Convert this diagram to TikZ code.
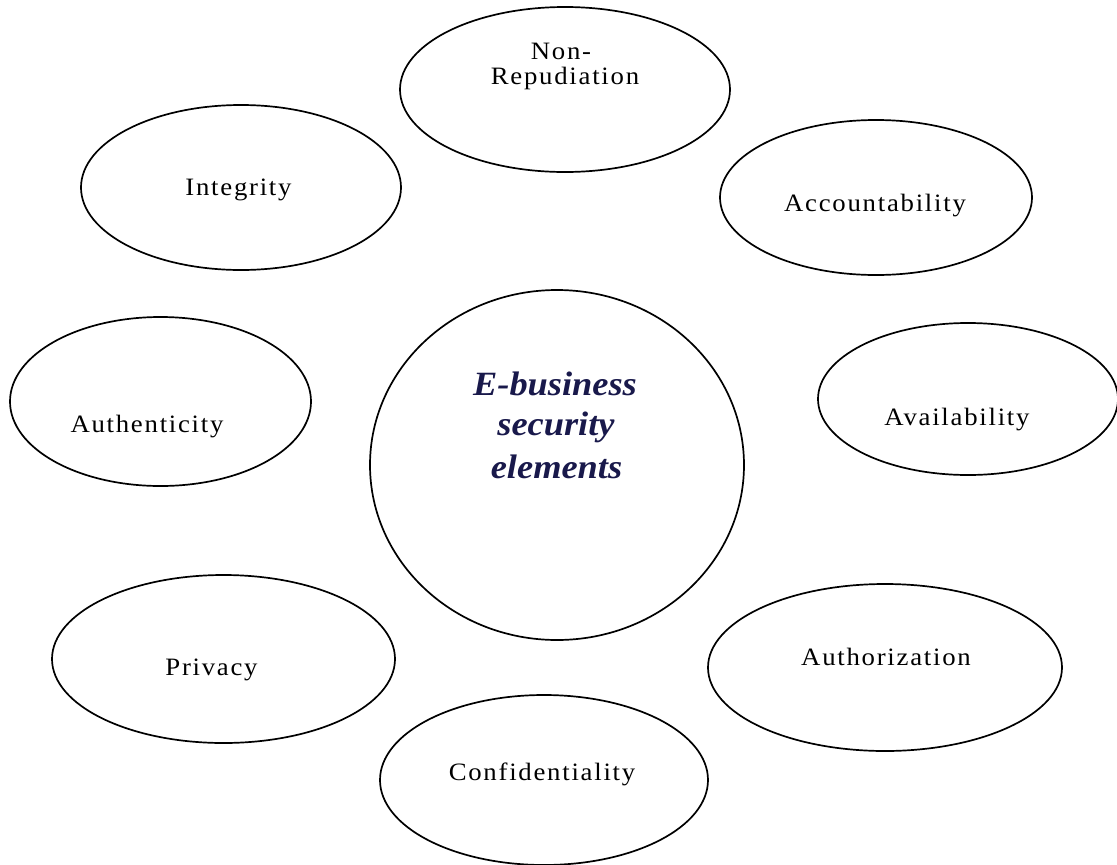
\documentclass[tikz,border=0pt]{standalone}
\usepackage{fontspec}
\usetikzlibrary{shapes.geometric}
\setmainfont{Liberation Serif}
\newfontfamily\labfont[LetterSpace=7,FakeStretch=1.07]{Liberation Serif}
\newfontfamily\hubfont[FakeStretch=1.07]{Liberation Serif}
\definecolor{hubtext}{RGB}{25,25,75}
\tikzset{
  bubble/.style={ellipse, draw=black, line width=1.7pt, inner sep=0pt},
  lab/.style={anchor=base, inner sep=0pt, font=\labfont\fontsize{25}{25}\selectfont, align=center},
  hub/.style={anchor=base, inner sep=0pt, text=hubtext,
    font=\hubfont\bfseries\itshape\fontsize{34}{41.5}\selectfont},
}
\newcommand{\bub}[5]{% name, x, y, rx, ry
  \node[bubble, minimum width=#4pt*2, minimum height=#5pt*2] (#1) at (#2,#3) {};}
\begin{document}
\begin{tikzpicture}[x=1pt,y=-1pt]
\useasboundingbox (0,0) rectangle (1117,865);
% outer bubbles
\bub{nonrep}{565}{89.5}{165}{82.5}
\bub{integ}{241}{187.5}{160}{82.5}
\bub{account}{876}{197.5}{156}{77.5}
\bub{authen}{160.5}{401.5}{150.5}{84.5}
\bub{avail}{968}{399}{150}{76}
\bub{priv}{223.5}{659}{171.5}{84}
\bub{author}{885}{667.5}{177}{83.5}
\bub{conf}{544}{780}{164}{85}
% central bubble
\bub{core}{557}{465}{187}{175}
% labels
\node[lab] (tnon) at (561,59) {Non-};
\node[lab] (trep) at (565,84) {Repudiation};
\node[lab] (tint) at (238.5,195) {Integrity};
\node[lab] (tacc) at (875,211) {Accountability};
\node[lab] (tauth) at (147,432) {Authenticity};
\node[lab] (tavail) at (957,425) {Availability};
\node[lab] (tpriv) at (211.5,675) {Privacy};
\node[lab] (tauthz) at (886,665) {Authorization};
\node[lab] (tconf) at (542,780) {Confidentiality};
% central title
\node[hub] (h1) at (555,395) {E-business};
\node[hub] (h2) at (556,435) {security};
\node[hub] (h3) at (556.5,478) {elements};
\end{tikzpicture}
\end{document}
